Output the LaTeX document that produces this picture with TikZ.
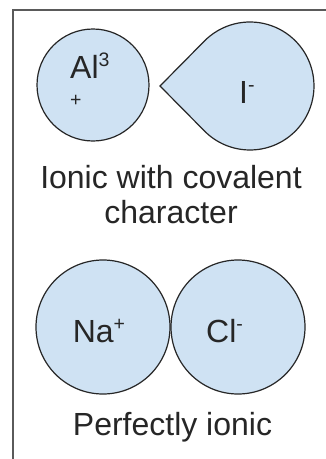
\documentclass[tikz,border=0pt]{standalone}
\usepackage{fontspec}
\setmainfont{Liberation Sans}
\definecolor{ionblue}{HTML}{CFE2F3}
\definecolor{framegray}{HTML}{5A5A5A}
\newcommand{\chg}[1]{\raisebox{12pt}{\fontsize{19.5}{20}\selectfont #1}}

\begin{document}
\begin{tikzpicture}[x=1pt,y=-1pt,
    ion/.style={circle,draw=black!85,line width=1.2pt,fill=ionblue,inner sep=0pt},
    lbl/.style={inner sep=0pt,text=black!85,font=\fontsize{32}{35}\selectfont}]
    \useasboundingbox (0,0) rectangle (326,459);
    \fill [white] (0,0) rectangle (326,459);
    \draw [framegray,line width=2pt] (13,460) -- (13,10) -- (327,10);

    % ionic with covalent character
    \node [ion,minimum size=112] (al) at (93,85) {};
    \filldraw [fill=ionblue,draw=black!85,line width=1.2pt]
      (160,86) -- (204.1,130.6) arc [start angle=135.8,end angle=-135.8,radius=64] -- cycle;
    \node [lbl,align=left,anchor=base west] (alion) at (70,118) {Al\chg{3}\\[5pt]\chg{+}};
    \node [lbl,anchor=base west] (iion) at (239,103) {I\chg{-}};
    \node [lbl,align=center,anchor=base] (polar) at (171,223) {Ionic with covalent\\character};

    % perfectly ionic
    \node [ion,minimum size=134] (na) at (103,327) {};
    \node [ion,minimum size=134] (cl) at (238,327) {};
    \node [lbl,anchor=base west] (naion) at (72.6,342) {Na\chg{+}};
    \node [lbl,anchor=base west] (clion) at (206,342) {Cl\chg{-}};
    \node [lbl,anchor=base] (pure) at (172.5,435) {Perfectly ionic};
\end{tikzpicture}
\end{document}
